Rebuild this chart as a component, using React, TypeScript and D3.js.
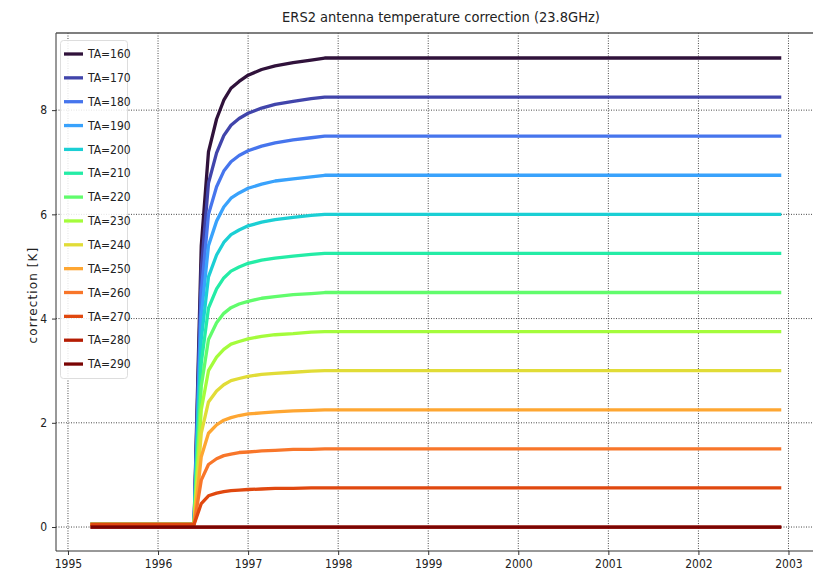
import React, { useEffect, useRef } from "react";
import * as d3 from "d3";

// decimal years of the samples shared by every curve
const times = [1995.25, 1996.4, 1996.48, 1996.56, 1996.65, 1996.73, 1996.81, 1996.9, 1997.0, 1997.15, 1997.3, 1997.5, 1997.7, 1997.85, 2002.92];

const ta160 = [0.05, 0.05, 5.4, 7.2, 7.83, 8.19, 8.42, 8.55, 8.67, 8.78, 8.85, 8.91, 8.96, 9.0, 9.0];
const ta170 = [0.05, 0.05, 4.95, 6.6, 7.18, 7.51, 7.71, 7.84, 7.94, 8.04, 8.11, 8.17, 8.22, 8.25, 8.25];
const ta180 = [0.05, 0.05, 4.5, 6.0, 6.53, 6.83, 7.01, 7.13, 7.22, 7.31, 7.37, 7.43, 7.47, 7.5, 7.5];
const ta190 = [0.05, 0.05, 4.05, 5.4, 5.87, 6.14, 6.31, 6.41, 6.5, 6.58, 6.64, 6.68, 6.72, 6.75, 6.75];
const ta200 = [0.05, 0.05, 3.6, 4.8, 5.22, 5.46, 5.61, 5.7, 5.78, 5.85, 5.9, 5.94, 5.98, 6.0, 6.0];
const ta210 = [0.05, 0.05, 3.15, 4.2, 4.57, 4.78, 4.91, 4.99, 5.06, 5.12, 5.16, 5.2, 5.23, 5.25, 5.25];
const ta220 = [0.05, 0.05, 2.7, 3.6, 3.92, 4.1, 4.21, 4.28, 4.33, 4.39, 4.42, 4.46, 4.48, 4.5, 4.5];
const ta230 = [0.05, 0.05, 2.25, 3.0, 3.26, 3.41, 3.51, 3.56, 3.61, 3.66, 3.69, 3.71, 3.74, 3.75, 3.75];
const ta240 = [0.05, 0.05, 1.8, 2.4, 2.61, 2.73, 2.81, 2.85, 2.89, 2.93, 2.95, 2.97, 2.99, 3.0, 3.0];
const ta250 = [0.05, 0.05, 1.35, 1.8, 1.96, 2.05, 2.1, 2.14, 2.17, 2.19, 2.21, 2.23, 2.24, 2.25, 2.25];
const ta260 = [0.05, 0.05, 0.9, 1.2, 1.31, 1.37, 1.4, 1.43, 1.44, 1.46, 1.47, 1.49, 1.49, 1.5, 1.5];
const ta270 = [0.05, 0.05, 0.45, 0.6, 0.65, 0.68, 0.7, 0.71, 0.72, 0.73, 0.74, 0.74, 0.75, 0.75, 0.75];
const ta280 = [0, 0, 0, 0, 0, 0, 0, 0, 0, 0, 0, 0, 0, 0, 0];
const ta290 = [0, 0, 0, 0, 0, 0, 0, 0, 0, 0, 0, 0, 0, 0, 0];

const labels = ["TA=160", "TA=170", "TA=180", "TA=190", "TA=200", "TA=210", "TA=220", "TA=230", "TA=240", "TA=250", "TA=260", "TA=270", "TA=280", "TA=290"];
const seriesValues = [ta160, ta170, ta180, ta190, ta200, ta210, ta220, ta230, ta240, ta250, ta260, ta270, ta280, ta290];
const colors = ["#30123b", "#4145ab", "#4675ed", "#39a2fc", "#1bcfd4", "#24eca6", "#61fc6c", "#a4fc3b", "#e1dc37", "#fea632", "#f8762a", "#e0480f", "#b51d04", "#7a0403"];

const xTicks = [1995, 1996, 1997, 1998, 1999, 2000, 2001, 2002, 2003];
const yTicks = [0, 2, 4, 6, 8];

const FONT = "'DejaVu Sans Condensed', 'DejaVu Sans', sans-serif";

export default function App() {
  const svgRef = useRef<SVGSVGElement>(null);

  useEffect(() => {
    const W = 813, H = 575;
    const left = 56, right = 820, top = 33, bottom = 551;

    const x = d3.scaleLinear().domain([1994.867, 2003.35]).range([left, right]);
    const y = d3.scaleLinear().domain([-0.46, 9.48]).range([bottom, top]);

    const svg = d3.select(svgRef.current);
    svg.selectAll("*").remove();
    svg.attr("width", W).attr("height", H);

    svg.append("rect").attr("width", W).attr("height", H).attr("fill", "white");

    const clip = svg.append("defs").append("clipPath").attr("id", "plotclip");
    clip.append("rect").attr("x", left).attr("y", top).attr("width", right - left).attr("height", bottom - top);

    // grid
    const grid = svg.append("g").attr("stroke", "#333").attr("stroke-width", 0.9).attr("stroke-dasharray", "1,1.5");
    grid.selectAll("line.gx").data(xTicks).enter().append("line")
      .attr("x1", d => x(d)).attr("x2", d => x(d)).attr("y1", top).attr("y2", bottom);
    grid.selectAll("line.gy").data(yTicks).enter().append("line")
      .attr("x1", left).attr("x2", right).attr("y1", d => y(d)).attr("y2", d => y(d));

    // curves
    const line = d3.line<number>()
      .x((_, i) => x(times[i]))
      .y(d => y(d));

    svg.append("g").attr("clip-path", "url(#plotclip)")
      .selectAll("path").data(seriesValues).enter().append("path")
      .attr("d", d => line(d))
      .attr("fill", "none")
      .attr("stroke", (_, i) => colors[i])
      .attr("stroke-width", 3.3)
      .attr("stroke-linejoin", "round");

    // axes
    const xAxis = svg.append("g").attr("transform", `translate(0,${bottom})`)
      .call(d3.axisBottom(x).tickValues(xTicks).tickFormat(d3.format("d")).tickSize(4).tickPadding(4));
    const yAxis = svg.append("g").attr("transform", `translate(${left},0)`)
      .call(d3.axisLeft(y).tickValues(yTicks).tickFormat(d3.format("d")).tickSize(4).tickPadding(5));
    [xAxis, yAxis].forEach(a => {
      a.select(".domain").remove();
      a.selectAll("line").attr("stroke", "#333");
      a.selectAll("text").attr("font-family", FONT).attr("font-size", 12).attr("fill", "#222");
    });

    // frame
    svg.append("line").attr("x1", left).attr("x2", left).attr("y1", top).attr("y2", bottom).attr("stroke", "#333").attr("stroke-width", 1);
    svg.append("line").attr("x1", left).attr("x2", right).attr("y1", bottom).attr("y2", bottom).attr("stroke", "#333").attr("stroke-width", 1);
    svg.append("line").attr("x1", left).attr("x2", right).attr("y1", top).attr("y2", top).attr("stroke", "#555").attr("stroke-width", 1.4);

    // title
    svg.append("text").attr("x", 441).attr("y", 22).attr("text-anchor", "middle")
      .attr("font-family", FONT).attr("font-size", 14.5).attr("fill", "#222")
      .text("ERS2 antenna temperature correction (23.8GHz)");

    // y label
    svg.append("text").attr("transform", `translate(37,295) rotate(-90)`)
      .attr("text-anchor", "middle").attr("font-family", "'DejaVu Sans', sans-serif")
      .attr("font-size", 12).attr("letter-spacing", 1.1).attr("fill", "#222")
      .text("correction [K]");

    // legend
    const lg = svg.append("g");
    const step = 23.85;
    lg.append("rect").attr("x", 60.5).attr("y", 40.5).attr("width", 67).attr("height", 338)
      .attr("rx", 3).attr("fill", "white").attr("fill-opacity", 0.85).attr("stroke", "#ddd");
    const items = lg.selectAll("g.item").data(labels).enter().append("g")
      .attr("transform", (_, i) => `translate(0,${54 + i * step})`);
    items.append("line").attr("x1", 64).attr("x2", 83).attr("y1", 0).attr("y2", 0)
      .attr("stroke", (_, i) => colors[i]).attr("stroke-width", 3.3);
    items.append("text").attr("x", 88).attr("y", 0).attr("dy", "0.35em")
      .attr("font-family", FONT).attr("font-size", 12).attr("fill", "#222")
      .text(d => d);
  }, []);

  return (
    <div style={{ position: "absolute", left: 0, top: 0 }}>
      <svg ref={svgRef} style={{ display: "block" }}></svg>
    </div>
  );
}
